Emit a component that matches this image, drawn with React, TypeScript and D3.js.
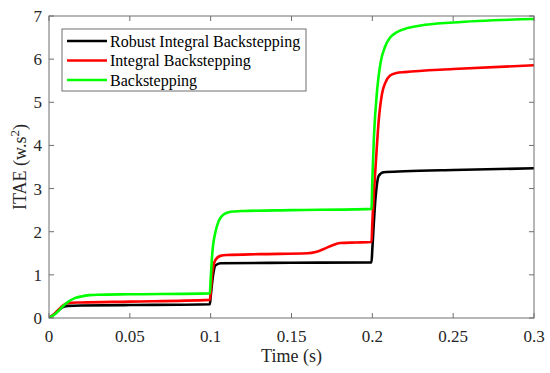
import React from "react";
import * as d3 from "d3";

const blackT = [0, 0.003, 0.006, 0.009, 0.012, 0.02, 0.05, 0.0995, 0.1, 0.1015, 0.103, 0.106, 0.15, 0.1995, 0.2, 0.202, 0.204, 0.207, 0.22, 0.25, 0.3];
const blackV = [0, 0.08, 0.18, 0.26, 0.28, 0.29, 0.3, 0.32, 0.5, 1.0, 1.22, 1.27, 1.28, 1.29, 1.6, 2.8, 3.3, 3.38, 3.4, 3.43, 3.47];

const redT = [0, 0.003, 0.006, 0.009, 0.012, 0.02, 0.05, 0.0995, 0.1, 0.101, 0.103, 0.106, 0.11, 0.13, 0.16, 0.165, 0.17, 0.175, 0.18, 0.19, 0.1995, 0.2, 0.202, 0.204, 0.206, 0.208, 0.211, 0.215, 0.22, 0.25, 0.3];
const redV = [0, 0.08, 0.2, 0.3, 0.35, 0.36, 0.38, 0.42, 0.6, 1.05, 1.35, 1.44, 1.46, 1.48, 1.5, 1.53, 1.6, 1.68, 1.74, 1.75, 1.76, 2.2, 3.5, 4.6, 5.2, 5.45, 5.62, 5.68, 5.7, 5.77, 5.86];

const greenT = [0, 0.004, 0.008, 0.012, 0.016, 0.02, 0.025, 0.03, 0.05, 0.0995, 0.1, 0.101, 0.103, 0.105, 0.108, 0.111, 0.115, 0.12, 0.15, 0.1995, 0.2, 0.201, 0.203, 0.205, 0.208, 0.211, 0.215, 0.22, 0.23, 0.25, 0.3];
const greenV = [0, 0.1, 0.25, 0.38, 0.46, 0.5, 0.53, 0.54, 0.55, 0.57, 0.9, 1.5, 2.0, 2.25, 2.4, 2.45, 2.47, 2.48, 2.5, 2.53, 3.2, 4.2, 5.3, 5.9, 6.3, 6.5, 6.62, 6.7, 6.78, 6.85, 6.93];

const seriesNames = ["Robust Integral Backstepping", "Integral Backstepping", "Backstepping"];
const seriesColors = ["#000000", "#ff0000", "#00ff00"];
const xTicks = [0, 0.05, 0.1, 0.15, 0.2, 0.25, 0.3];
const xTickLabels = ["0", "0.05", "0.1", "0.15", "0.2", "0.25", "0.3"];
const yTicks = [0, 1, 2, 3, 4, 5, 6, 7];

const W = 550, H = 373;
const L = 49, R = 534, T = 16, B = 318;
const FONT = "'Liberation Serif', 'Times New Roman', serif";

export default function App() {
  const x = d3.scaleLinear().domain([0, 0.3]).range([L, R]);
  const y = d3.scaleLinear().domain([0, 7]).range([B, T]);
  const line = d3.line<[number, number]>().x(d => x(d[0])).y(d => y(d[1])).curve(d3.curveMonotoneX);
  const series = [
    { t: blackT, v: blackV },
    { t: redT, v: redV },
    { t: greenT, v: greenV },
  ];
  const axisColor = "#6e6e6e";
  const tl = 5;
  return (
    <svg width={W} height={H} style={{ position: "absolute", left: 0, top: 0, background: "#fff" }} fontFamily={FONT}>
      <rect x={0} y={0} width={W} height={H} fill="#fff" />
      <defs>
        <clipPath id="clip">
          <rect x={L} y={T} width={R - L} height={B - T} />
        </clipPath>
      </defs>
      <g clipPath="url(#clip)">
        {series.map((s, i) => (
          <path key={i} d={line(s.t.map((t, j) => [t, s.v[j]] as [number, number])) || ""} fill="none" stroke={seriesColors[i]} strokeWidth={2.6} strokeLinejoin="round" />
        ))}
      </g>
      <rect x={L} y={T} width={R - L} height={B - T} fill="none" stroke={axisColor} strokeWidth={1} />
      {xTicks.map((t, i) => (
        <g key={"x" + i}>
          <line x1={x(t)} x2={x(t)} y1={B} y2={B - tl} stroke={axisColor} />
          <line x1={x(t)} x2={x(t)} y1={T} y2={T + tl} stroke={axisColor} />
          <text x={x(t)} y={342} textAnchor="middle" fontSize={17} fill="#262626">{xTickLabels[i]}</text>
        </g>
      ))}
      {yTicks.map((v, i) => (
        <g key={"y" + i}>
          <line x1={L} x2={L + tl} y1={y(v)} y2={y(v)} stroke={axisColor} />
          <line x1={R} x2={R - tl} y1={y(v)} y2={y(v)} stroke={axisColor} />
          <text x={42} y={y(v) + 6} textAnchor="end" fontSize={17} fill="#262626">{v}</text>
        </g>
      ))}
      <text x={(L + R) / 2} y={362} textAnchor="middle" fontSize={18} fill="#262626">Time (s)</text>
      <text transform={`translate(26, 167) rotate(-90)`} textAnchor="middle" fontSize={18} fill="#262626">
        ITAE (w.s<tspan dy={-7} fontSize={13}>2</tspan><tspan dy={7}>)</tspan>
      </text>
      <rect x={62} y={29} width={244} height={62} fill="#fff" stroke={axisColor} strokeWidth={1} />
      {seriesNames.map((n, i) => (
        <g key={"l" + i}>
          <line x1={67} x2={107} y1={41 + i * 19.5} y2={41 + i * 19.5} stroke={seriesColors[i]} strokeWidth={2.6} />
          <text x={110} y={46.5 + i * 19.5} fontSize={16} fill="#000">{n}</text>
        </g>
      ))}
    </svg>
  );
}
